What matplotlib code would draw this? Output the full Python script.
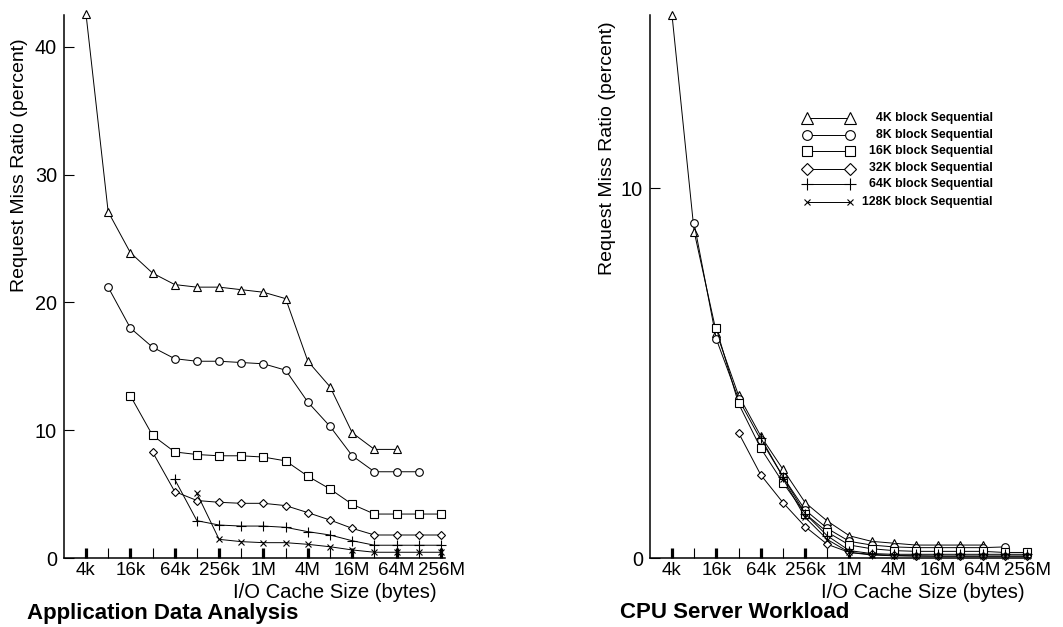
import numpy as np
import matplotlib
matplotlib.use('Agg')
import matplotlib.pyplot as plt
from matplotlib.ticker import FixedLocator, NullFormatter

plt.rcParams['font.family'] = ['Liberation Sans', 'DejaVu Sans']

# cache sizes in bytes: 4k .. 256M, one point per factor of two
K = 1024
sizes = [4*K * 2**i for i in range(17)]
tick_sizes = [4*K * 4**i for i in range(9)]
tick_labels = ['4k', '16k', '64k', '256k', '1M', '4M', '16M', '64M', '256M']

names = ['4K block Sequential', '8K block Sequential', '16K block Sequential',
         '32K block Sequential', '64K block Sequential', '128K block Sequential']
markers = ['^', 'o', 's', 'D', '+', 'x']
msizes = [6.3, 5.5, 6, 4.5, 7, 4.5]
start = [0, 1, 2, 3, 4, 5]      # first size index of each series
stop = [15, 16, 17, 17, 17, 17]  # last size index (exclusive)

# Application Data Analysis (percent)
app = [
    [42.6, 27.1, 23.9, 22.3, 21.4, 21.2, 21.2, 21.0, 20.8, 20.3, 15.4, 13.4, 9.8, 8.5, 8.5],
    [21.2, 18.0, 16.5, 15.6, 15.4, 15.4, 15.3, 15.2, 14.7, 12.2, 10.3, 8.0, 6.75, 6.75, 6.75],
    [12.7, 9.6, 8.3, 8.1, 8.0, 8.0, 7.9, 7.6, 6.4, 5.4, 4.2, 3.44, 3.44, 3.44, 3.44],
    [8.3, 5.2, 4.5, 4.36, 4.28, 4.28, 4.1, 3.55, 2.97, 2.32, 1.8, 1.8, 1.8, 1.8],
    [6.16, 2.92, 2.58, 2.5, 2.5, 2.4, 2.06, 1.8, 1.35, 1.0, 1.0, 1.0, 1.0],
    [5.06, 1.46, 1.28, 1.2, 1.2, 1.07, 0.88, 0.63, 0.45, 0.45, 0.45, 0.45],
]

# CPU Server Workload (percent)
cpu = [
    [14.7, 8.83, 6.1, 4.4, 3.3, 2.4, 1.5, 1.0, 0.6, 0.45, 0.4, 0.35, 0.35, 0.35, 0.35],
    [9.05, 5.92, 4.3, 3.2, 2.2, 1.3, 0.8, 0.45, 0.35, 0.3, 0.28, 0.28, 0.28, 0.28, 0.3],
    [6.21, 4.18, 2.97, 2.04, 1.2, 0.7, 0.35, 0.25, 0.2, 0.18, 0.18, 0.18, 0.18, 0.15, 0.15],
    [3.39, 2.25, 1.5, 0.85, 0.37, 0.15, 0.1, 0.07, 0.06, 0.05, 0.05, 0.05, 0.05, 0.05],
    [3.25, 2.2, 1.2, 0.6, 0.2, 0.12, 0.1, 0.1, 0.1, 0.1, 0.1, 0.1, 0.1],
    [2.15, 1.1, 0.5, 0.15, 0.08, 0.06, 0.05, 0.05, 0.05, 0.05, 0.05, 0.05],
]

W, H = 1063, 627
fig = plt.figure(figsize=(W/100, H/100), dpi=100)


def panel(x0, data, ymax, yticks):
    ax = fig.add_axes([x0/W, (H-558)/H, 381/W, 543/H])
    for i, vals in enumerate(data):
        ax.plot(sizes[start[i]:stop[i]], vals, color='black', lw=0.7,
                marker=markers[i], ms=msizes[i], mfc='white', mec='black',
                mew=0.8, clip_on=False)
    ax.set_xscale('log', base=2)
    ax.set_xlim(2**11.01, 2**28.18)
    ax.set_ylim(0, ymax)
    for s in ['top', 'right']:
        ax.spines[s].set_visible(False)
    for s in ['left', 'bottom']:
        ax.spines[s].set_linewidth(1.1)
    ax.xaxis.set_major_locator(FixedLocator(tick_sizes))
    ax.set_xticklabels(tick_labels)
    ax.xaxis.set_minor_locator(FixedLocator([t*2 for t in tick_sizes[:-1]]))
    ax.xaxis.set_minor_formatter(NullFormatter())
    ax.set_yticks(yticks)
    ax.yaxis.set_minor_locator(FixedLocator([]))
    ax.tick_params(axis='x', which='major', direction='in', length=7, width=2.3,
                   labelsize=13.5, pad=3)
    ax.tick_params(axis='x', which='minor', direction='in', length=7, width=0.8)
    ax.tick_params(axis='y', direction='in', length=7, width=0.8,
                   labelsize=14.3, pad=5)
    return ax


axl = panel(64, app, 42.5, [0, 10, 20, 30, 40])
axr = panel(650, cpu, 14.69, [0, 10])

fig.text(20/W, 1-165/H, 'Request Miss Ratio (percent)', rotation=90,
         ha='center', va='center', fontsize=14)
fig.text(608/W, 1-148/H, 'Request Miss Ratio (percent)', rotation=90,
         ha='center', va='center', fontsize=14)
fig.text(437/W, 1-593/H, 'I/O Cache Size (bytes)', ha='right', va='center', fontsize=14.6)
fig.text(1025/W, 1-593/H, 'I/O Cache Size (bytes)', ha='right', va='center', fontsize=14.6)
fig.text(27/W, 1-613/H, 'Application Data Analysis', ha='left', va='center',
         fontsize=16, fontweight='bold')
fig.text(620/W, 1-613/H, 'CPU Server Workload', ha='left', va='center',
         fontsize=16, fontweight='bold')

# legend keys drawn by hand in figure pixels
leg_y = [118, 135, 151, 168.5, 184, 202]
leg_ms = [8, 7, 7.5, 6, 8, 5]
for i in range(6):
    y = 1 - leg_y[i]/H
    fig.add_artist(plt.Line2D([807/W, 850/W], [y, y], color='black', lw=0.7,
                              marker=markers[i], ms=leg_ms[i], mfc='white',
                              mec='black', mew=0.8, transform=fig.transFigure))
    fig.text(993/W, y, names[i], ha='right', va='center', fontsize=8.8,
             fontweight='bold')

fig.savefig('out.png', dpi=100)
